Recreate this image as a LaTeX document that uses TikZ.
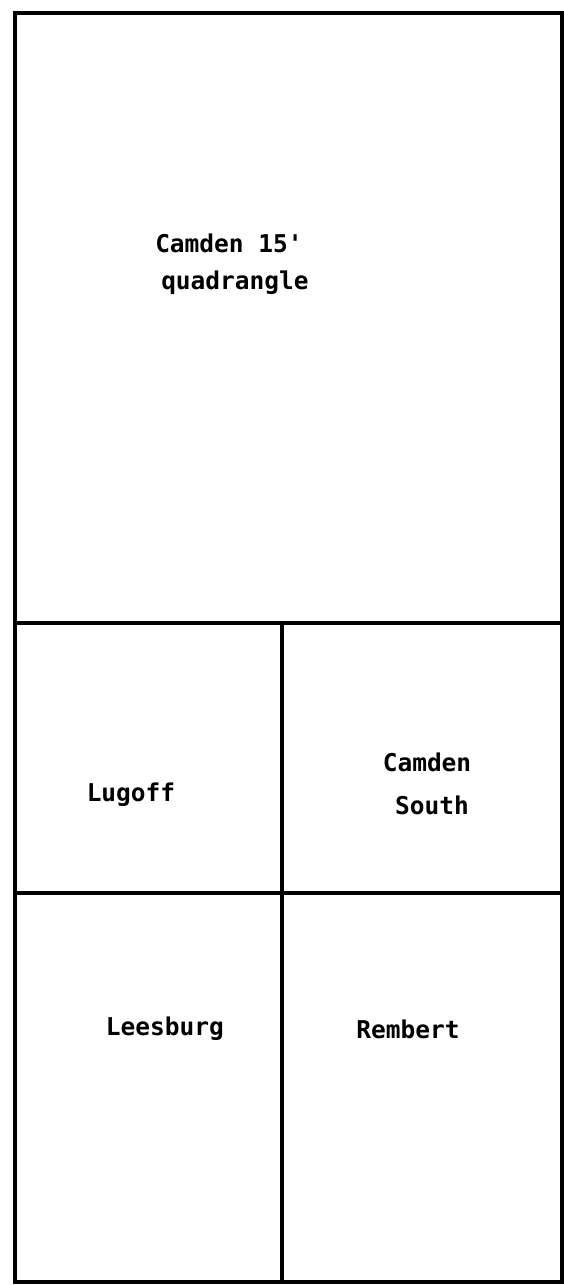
\documentclass[tikz,border=0pt]{standalone}
\usepackage{fontspec}
\setmonofont{DejaVu Sans Mono}
\usepackage{tikz}
\definecolor{quadink}{RGB}{0,0,0}

\begin{document}
\begin{tikzpicture}[x=1pt, y=1pt, every node/.style={font=\ttfamily\bfseries\fontsize{24.5}{29}\selectfont,align=center,text=quadink}]
\useasboundingbox (0,0) rectangle (564,1285);
\draw[line width=4pt,quadink] (15,3) rectangle (562,1272);
\node (camden) at (229,1042) {Camden 15'};
\node (quad) at (235,1002) {quadrangle};
\draw[line width=3.5pt,quadink] (15,662) -- (562,662);
\draw[line width=3.5pt,quadink] (15,392) -- (562,392);
\draw[line width=3.5pt,quadink] (282,662) -- (282,3);
\node (lugoff) at (131,490) {Lugoff};
\node (camdens) at (427,523) {Camden};
\node (south) at (432,480) {South};
\node (leesburg) at (165,256) {Leesburg};
\node (rembert) at (408,256) {Rembert};
\end{tikzpicture}
\end{document}
